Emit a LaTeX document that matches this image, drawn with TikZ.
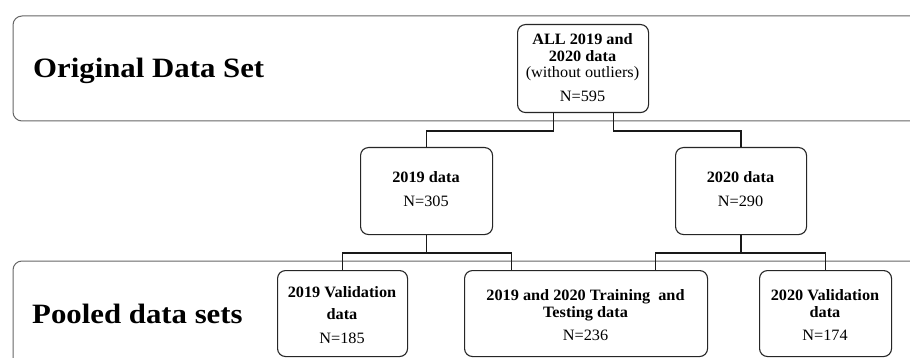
\documentclass[tikz,border=0pt]{standalone}
\usepackage{fontspec}
\setmainfont{Liberation Serif}
\usepackage{graphicx}
\newcommand{\hsb}[1]{\scalebox{1.03}[1]{#1}}
\newcommand{\hst}[1]{\scalebox{1.1}[1]{#1}}
\begin{document}
\begin{tikzpicture}[x=1pt,y=-1pt,
 band/.style={draw=black!60, line width=1pt, rounded corners=9pt},
 box/.style={draw=black!85, line width=1.1pt, rounded corners=8pt, fill=white, inner sep=0, anchor=north west},
 conn/.style={draw=black!90, line width=1.7pt},
 bt/.style={font=\fontsize{15.8}{17}\selectfont\bfseries, anchor=base, inner sep=0},
 nt/.style={font=\fontsize{15.8}{17}\selectfont, anchor=base, inner sep=0},
 title/.style={font=\fontsize{28}{30}\selectfont\bfseries, anchor=base west, inner sep=0}]
\useasboundingbox (0,0) rectangle (910,358);
\fill[white] (0,0) rectangle (910,358);

% bands
\draw[band] (911,16) -- (13,16) -- (13,121) -- (911,121);
\draw[band] (911,261) -- (13,261) -- (13,362);

\node[title] (t1) at (33,78) {\hst{Original Data Set}};
\node[title] (t2) at (32,323) {\hst{Pooled data sets}};

% boxes
\node[box, minimum width=131pt, minimum height=88pt] (root) at (517,24) {};
\node[box, minimum width=132pt, minimum height=87pt] (d19) at (360,147) {};
\node[box, minimum width=131pt, minimum height=87pt] (d20) at (675,147) {};
\node[box, minimum width=130pt, minimum height=86pt] (v19) at (277,270) {};
\node[box, minimum width=243pt, minimum height=86pt] (pool) at (464,270) {};
\node[box, minimum width=132pt, minimum height=86pt] (v20) at (759,270) {};

% connectors
\draw[conn] ([xshift=-29.5pt]root.south) -- ++(0,18) -| (d19.north);
\draw[conn] ([xshift=30.5pt]root.south) -- ++(0,18) -| (d20.north);
\coordinate (j19) at ([yshift=-18pt]d19.south);
\coordinate (j20) at ([yshift=-18pt]d20.south);
\draw[conn] (d19.south) -- (j19);
\draw[conn] (v19.north) |- (j19) -| ([xshift=-74.5pt]pool.north);
\draw[conn] (d20.south) -- (j20);
\draw[conn] ([xshift=69.5pt]pool.north) |- (j20) -| (v20.north);

% texts
\node[bt] (r1) at (582.5,45) {\hsb{ALL 2019 and}};
\node[bt] (r2) at (582.5,62) {\hsb{2020 data}};
\node[nt] (r3) at (582.5,78) {\hsb{(without outliers)}};
\node[nt] (r4) at (582.5,102) {\hsb{N=595}};

\node[bt] (a1) at (426,183) {\hsb{2019 data}};
\node[nt] (a2) at (426,207) {\hsb{N=305}};
\node[bt] (b1) at (740.5,183) {\hsb{2020 data}};
\node[nt] (b2) at (740.5,207) {\hsb{N=290}};

\node[bt] (c1) at (342,297) {\hsb{2019 Validation}};
\node[bt] (c2) at (342,319) {\hsb{data}};
\node[nt] (c3) at (342,343) {\hsb{N=185}};

\node[bt] (p1) at (585.5,300) {\hsb{2019 and 2020 Training\ \ and}};
\node[bt] (p2) at (585.5,317) {\hsb{Testing data}};
\node[nt] (p3) at (585.5,340) {\hsb{N=236}};

\node[bt] (e1) at (825,300) {\hsb{2020 Validation}};
\node[bt] (e2) at (825,317) {\hsb{data}};
\node[nt] (e3) at (825,340) {\hsb{N=174}};
\end{tikzpicture}
\end{document}
